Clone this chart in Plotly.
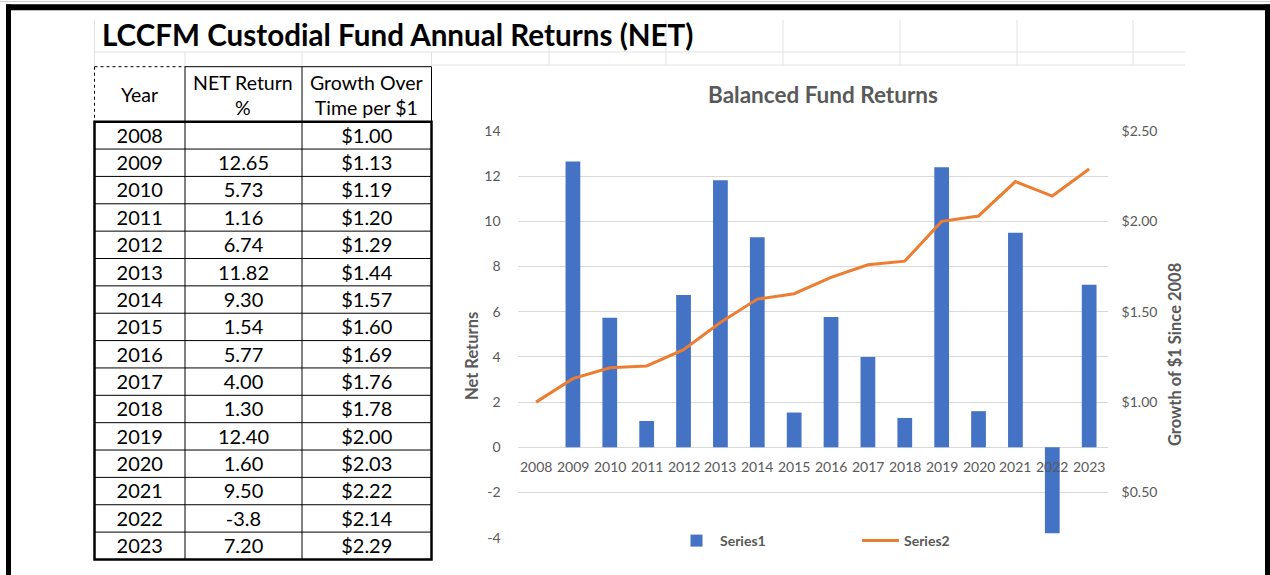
import plotly.graph_objects as go

W, H = 1270, 575

# ---------------- data ----------------
years = [str(y) for y in range(2008, 2024)]
net_returns = [None, 12.65, 5.73, 1.16, 6.74, 11.82, 9.30, 1.54, 5.77, 4.00,
               1.30, 12.40, 1.60, 9.50, -3.8, 7.20]
return_labels = ["", "12.65", "5.73", "1.16", "6.74", "11.82", "9.30", "1.54",
                 "5.77", "4.00", "1.30", "12.40", "1.60", "9.50", "-3.8", "7.20"]
growth = [1.00, 1.13, 1.19, 1.20, 1.29, 1.44, 1.57, 1.60, 1.69, 1.76, 1.78,
          2.00, 2.03, 2.22, 2.14, 2.29]
left_ticks = [-4, -2, 0, 2, 4, 6, 8, 10, 12, 14]
right_ticks = [0.5, 1.0, 1.5, 2.0, 2.5]
header_labels = ["Year", "NET Return<br>%", "Growth Over<br>Time per $1"]


def px(x):
    return x / W


def py(y):
    return 1 - y / H


FONT = "Lato"
GRAY = "#595959"

# table geometry (pixels)
col_edges = [94.5, 185, 302, 431.5]
tab_top, head_h, row_h = 66.7, 55, 27.36
text_lift = 2  # plotly table prints text slightly low in a cell

fig = go.Figure()

# ---------------- table ----------------
widths = [col_edges[i + 1] - col_edges[i] for i in range(3)]
fig.add_trace(go.Table(
    domain=dict(x=[px(col_edges[0]), px(col_edges[-1])],
                y=[py(tab_top - text_lift + head_h + row_h * len(years) + 4),
                   py(tab_top - text_lift)]),
    columnwidth=widths,
    header=dict(values=["", "", ""], height=head_h, fill_color="white",
                line=dict(color="rgba(0,0,0,0)", width=0)),
    cells=dict(values=[years, return_labels, [f"${g:.2f}" for g in growth]],
               height=row_h, align="center", fill_color="white",
               line=dict(color="rgba(0,0,0,0)", width=0),
               font=dict(family=FONT, size=20, color="black")),
))

# ---------------- chart ----------------
fig.add_trace(go.Bar(x=years, y=net_returns, name="Series1",
                     marker=dict(color="#4472C4", line=dict(width=0)),
                     xaxis="x", yaxis="y"))
fig.add_trace(go.Scatter(x=years, y=growth, name="Series2", mode="lines",
                         line=dict(color="#ED7D31", width=3),
                         xaxis="x", yaxis="y2"))

annotations = []
for i, yr in enumerate(years):
    annotations.append(dict(x=i, y=0, xref="x", yref="y", text=yr,
                            showarrow=False, xanchor="center", yanchor="top",
                            yshift=-9,
                            font=dict(family=FONT, size=14, color=GRAY)))

# table header texts
for i, lab in enumerate(header_labels):
    annotations.append(dict(x=px((col_edges[i] + col_edges[i + 1]) / 2),
                            y=py(tab_top + head_h / 2 + 0.5), xref="paper",
                            yref="paper", text=lab, showarrow=False,
                            xanchor="center", yanchor="middle",
                            font=dict(family=FONT, size=19.5, color="black")))

annotations += [
    dict(x=px(100), y=py(35), xref="paper", yref="paper", xanchor="left",
         yanchor="middle", showarrow=False,
         text="<b>LCCFM Custodial Fund Annual Returns (NET)</b>",
         font=dict(family=FONT, size=29.6, color="black")),
    dict(x=px(823), y=py(95), xref="paper", yref="paper", showarrow=False,
         xanchor="center", yanchor="middle",
         text="<b>Balanced Fund Returns</b>",
         font=dict(family=FONT, size=22.5, color=GRAY)),
    dict(x=px(472), y=py(356), xref="paper", yref="paper", showarrow=False,
         xanchor="center", yanchor="middle",
         text="<b>Net Returns</b>", textangle=-90,
         font=dict(family=FONT, size=16.5, color=GRAY)),
    dict(x=px(1175), y=py(355), xref="paper", yref="paper", showarrow=False,
         xanchor="center", yanchor="middle",
         text="<b>Growth of $1 Since 2008</b>", textangle=-90,
         font=dict(family=FONT, size=16.5, color=GRAY)),
]

SHEET = "#E1E1E1"
shapes = []


def line(x0, y0, x1, y1, color, width, dash="solid"):
    shapes.append(dict(type="line", xref="paper", yref="paper",
                       x0=px(x0), y0=py(y0), x1=px(x1), y1=py(y1),
                       line=dict(color=color, width=width, dash=dash),
                       layer="above"))


# spreadsheet grid lines
line(94.5, 52, 1185, 52, SHEET, 1)
line(431.5, 65, 1185, 65, SHEET, 1)
line(94.5, 20, 94.5, 66, SHEET, 1)
for x in [185, 302, 431.5]:
    line(x, 52, x, 66, SHEET, 1)
for x in [549, 666, 783, 900, 1017, 1133]:
    line(x, 20, x, 65, SHEET, 1)

# table cell borders
body_top = tab_top + head_h
body_bot = body_top + row_h * len(years)
for k in range(1, len(years)):
    yk = body_top + row_h * k
    line(col_edges[0], yk, col_edges[-1], yk, "black", 1)
for x in col_edges[1:-1]:
    line(x, tab_top, x, body_bot, "black", 1)
line(col_edges[1], tab_top, col_edges[-1], tab_top, "black", 1)
line(col_edges[-1], tab_top, col_edges[-1], body_top, "black", 1)
shapes.append(dict(type="rect", xref="paper", yref="paper",
                   x0=px(col_edges[0]), y0=py(body_top),
                   x1=px(col_edges[-1]), y1=py(body_bot),
                   line=dict(color="black", width=2.5), layer="above"))
# dashed marquee around the Year header
line(col_edges[0], tab_top, col_edges[1], tab_top, "black", 1, "dot")
line(col_edges[0], tab_top, col_edges[0], body_top, "black", 1, "dot")

# outer black frame
line(0, 1.5, 1270, 1.5, "#D0D0D0", 1)
line(6, 7.2, 1270, 7.2, "black", 6)
line(8.5, 4.5, 8.5, 575, "black", 5)
line(1267.5, 4.5, 1267.5, 575, "black", 5)

fig.update_layout(
    width=W, height=H,
    margin=dict(l=0, r=0, t=0, b=0, pad=0, autoexpand=False),
    paper_bgcolor="white", plot_bgcolor="white",
    bargap=0.6,
    showlegend=True,
    legend=dict(orientation="h", x=px(673), xanchor="left", y=py(541),
                yanchor="middle", bgcolor="rgba(0,0,0,0)",
                font=dict(family=FONT, size=14, color=GRAY, weight="bold"),
                itemwidth=37, entrywidth=132),
    xaxis=dict(domain=[px(517.6), px(1107.6)], type="category",
               range=[-0.5, 15.5], showticklabels=False, showgrid=False,
               zeroline=False, showline=False, ticks="", anchor="y"),
    yaxis=dict(domain=[py(537.7), py(131)], range=[-4, 14],
               tickvals=left_ticks, ticktext=[str(v) for v in left_ticks],
               showgrid=True, gridcolor="#D9D9D9",
               gridwidth=1, zeroline=False, showline=False, ticks="",
               ticklabelstandoff=16,
               tickfont=dict(family=FONT, size=14, color=GRAY), anchor="x"),
    yaxis2=dict(overlaying="y", side="right", range=[0.25, 2.5],
                tickvals=right_ticks, tickformat="$.2f", showgrid=False,
                zeroline=False, showline=False, ticks="",
                ticklabelstandoff=13, anchor="x",
                tickfont=dict(family=FONT, size=14, color=GRAY)),
    annotations=annotations,
    shapes=shapes,
)

fig.write_html(
    "out.html",
    config={"displayModeBar": False},
    post_script="document.body.style.margin='0';"
                "document.body.style.overflow='hidden';",
)
